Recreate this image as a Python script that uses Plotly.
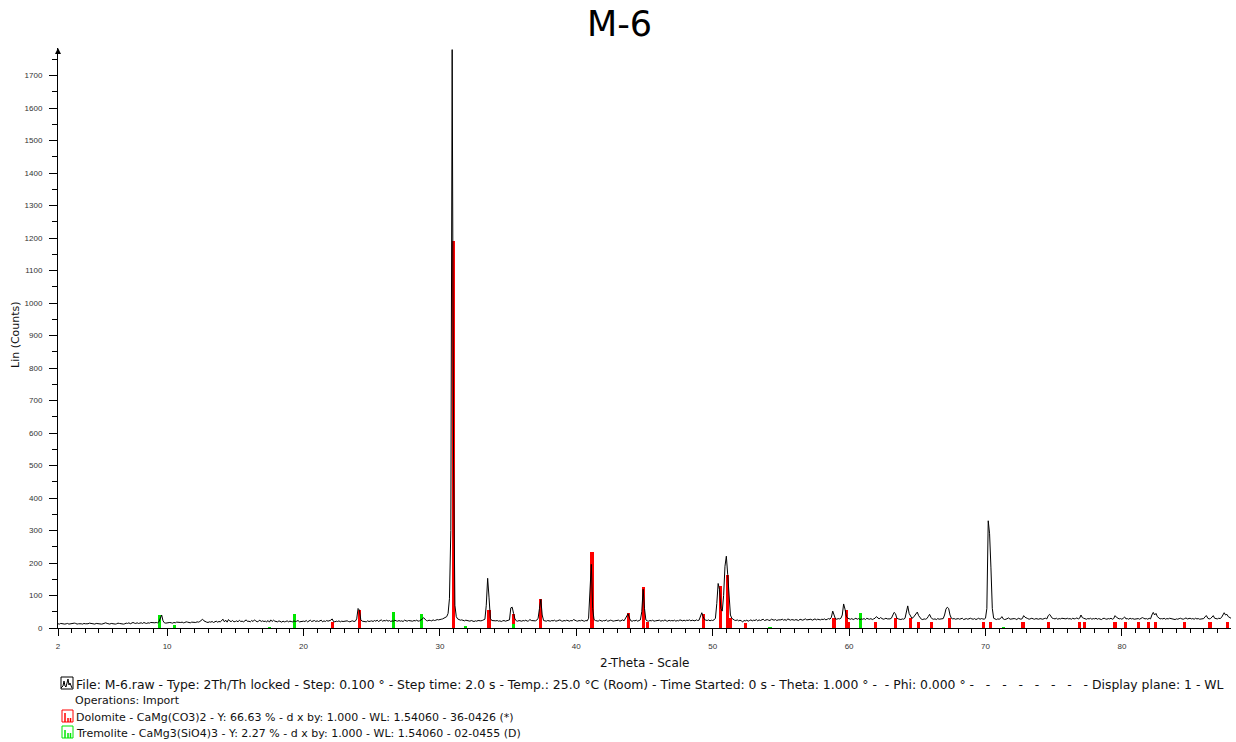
import numpy as np
import plotly.graph_objects as go

# ---------------- data ----------------
start_2theta = 2.0
step_2theta = 0.1
# measured counts, one row per degree (x.0 ... x.9), last value is 88.0
counts = [
    13,12,14,13,11,12,13,14,12,13,   # 2
    12,13,15,14,12,13,14,13,12,14,   # 3
    13,12,13,15,14,12,13,12,14,13,   # 4
    14,13,12,13,14,16,14,13,12,14,   # 5
    13,14,12,13,15,14,13,14,12,13,   # 6
    15,14,16,13,14,17,15,14,16,14,   # 7
    15,16,14,17,15,14,16,15,17,16,   # 8
    15,16,17,16,19,32,40,22,16,15,   # 9
    16,15,17,16,15,17,16,18,17,16,   # 10
    17,18,16,17,19,18,17,16,18,17,   # 11
    18,17,19,18,20,24,27,22,19,18,   # 12
    17,19,18,20,17,19,21,18,20,19,   # 13
    22,27,19,24,18,26,21,20,23,19,   # 14
    20,22,19,24,20,21,19,22,25,20,   # 15
    21,19,23,20,25,22,19,21,24,20,   # 16
    22,20,21,19,23,18,25,20,24,21,   # 17
    20,19,22,20,18,21,19,20,22,19,   # 18
    21,20,19,22,20,21,23,19,20,22,   # 19
    21,20,23,19,22,24,20,21,23,20,   # 20
    22,20,21,24,19,22,20,23,21,22,   # 21
    24,28,20,19,21,20,22,19,21,20,   # 22
    21,20,22,20,19,21,22,20,21,28,   # 23
    60,55,25,21,20,21,19,22,20,21,   # 24
    22,20,23,21,24,20,22,25,21,23,   # 25
    22,24,21,23,20,22,21,24,22,21,   # 26
    23,21,22,20,24,22,21,23,22,20,   # 27
    21,23,22,24,21,22,24,27,32,26,   # 28
    23,22,24,23,22,25,23,24,26,25,   # 29
    25,27,28,30,32,35,45,90,300,1780,  # 30
    520,70,35,28,26,24,25,23,22,24,  # 31
    23,22,21,23,22,20,22,21,23,22,   # 32
    22,23,24,27,70,153,95,30,23,22,  # 33
    21,22,23,21,22,20,22,23,21,22,   # 34
    22,25,62,64,45,28,22,21,23,22,   # 35
    21,23,22,24,21,22,26,23,22,21,   # 36
    22,24,30,60,88,40,23,22,21,23,   # 37
    22,21,23,22,24,21,22,23,25,22,   # 38
    21,23,22,24,22,21,23,22,26,23,   # 39
    22,21,23,22,24,22,21,23,22,30,   # 40
    95,196,60,26,23,22,21,24,22,21,  # 41
    23,22,25,21,22,24,23,21,22,23,   # 42
    22,24,21,23,25,22,28,38,44,30,   # 43
    22,21,23,22,24,21,23,25,50,119,  # 44
    60,25,22,21,23,22,24,21,22,23,   # 45
    22,24,21,23,22,25,22,21,24,22,   # 46
    23,22,24,21,23,22,25,23,22,24,   # 47
    22,24,23,25,22,24,23,22,25,23,   # 48
    24,38,47,35,26,24,23,25,22,24,   # 49
    23,25,30,75,137,118,60,52,100,190,  # 50
    221,165,90,40,30,26,24,23,25,22, # 51
    24,22,19,23,22,24,21,23,25,22,   # 52
    24,23,26,22,25,23,24,27,23,25,   # 53
    26,24,23,27,25,24,26,23,25,24,   # 54
    25,27,24,26,23,28,25,24,26,25,   # 55
    24,26,25,23,27,25,24,26,28,25,   # 56
    26,25,27,24,26,28,25,27,26,25,   # 57
    27,26,28,25,27,29,27,33,52,38,   # 58
    28,27,29,28,30,40,74,58,36,30,   # 59
    28,27,29,26,28,30,27,29,26,28,   # 60
    27,29,26,30,28,27,29,26,28,30,   # 61
    35,30,28,32,29,27,28,30,28,27,   # 62
    28,30,40,48,44,30,28,27,26,28,   # 63
    27,30,55,68,45,35,30,32,38,45,   # 64
    49,38,30,27,26,28,27,29,35,42,   # 65
    33,28,27,28,26,29,27,28,30,29,   # 66
    40,58,64,60,40,30,28,29,27,28,   # 67
    29,27,28,30,26,28,29,27,28,30,   # 68
    28,27,29,26,28,30,27,29,28,27,   # 69
    30,60,330,290,185,60,30,27,26,28,  # 70
    27,29,35,28,26,27,29,31,27,28,   # 71
    27,29,28,26,30,28,27,29,38,33,   # 72
    30,29,27,28,30,28,27,29,28,27,   # 73
    29,28,27,29,30,28,38,42,36,30,   # 74
    29,28,30,27,29,28,30,29,27,28,   # 75
    30,28,29,27,30,28,29,31,28,30,   # 76
    40,32,30,28,27,29,28,30,27,29,   # 77
    28,30,27,29,28,26,29,30,28,27,   # 78
    29,28,30,27,29,38,33,30,28,29,   # 79
    27,30,34,28,29,27,30,28,29,27,   # 80
    28,30,29,27,29,32,30,28,29,27,   # 81
    30,28,40,48,40,45,35,30,28,29,   # 82
    28,30,27,29,28,30,29,27,28,26,   # 83
    28,27,29,30,28,27,29,31,28,29,   # 84
    30,28,29,27,30,28,29,27,28,30,   # 85
    29,35,38,30,28,29,35,38,30,29,   # 86
    28,30,29,32,38,47,40,42,35,33,   # 87
    30,                              # 88.0
]
two_theta = start_2theta + step_2theta * np.arange(len(counts))

dolomite_pos = [22.1, 24.1, 31.0, 33.6, 35.4, 37.4, 41.15, 43.8, 44.95, 45.2,
                49.3, 50.55, 51.1, 51.3, 52.4, 58.9, 59.8, 59.95, 61.95, 63.4,
                64.5, 65.1, 66.05, 67.35, 69.85, 70.35, 72.75, 74.6, 76.9, 77.25,
                79.5, 80.25, 81.2, 81.95, 82.45, 84.6, 86.45, 87.75]
dolomite_int = [20, 55, 1190, 55, 43, 90, 234, 45, 125, 20,
                43, 130, 163, 31, 15, 32, 55, 17, 17, 32,
                32, 17, 17, 32, 17, 17, 17, 17, 17, 17,
                17, 17, 17, 17, 17, 17, 17, 17]

tremolite_pos = [9.45, 10.55, 17.5, 19.35, 26.6, 28.65, 31.9, 35.4, 54.2, 60.85, 71.3]
tremolite_int = [40, 8, 3, 43, 50, 43, 6, 12, 3, 47, 3]

y_ticks = list(range(0, 1800, 100))
x_major = [2] + list(range(5, 90, 5))
x_labels = [str(v) if (v % 10 == 0 or v == 2) else "" for v in x_major]

title_text = "M-6"
x_title = "2-Theta - Scale"
y_title = "Lin (Counts)"
NB = "\u00a0"
dash_run = (" " + NB * 2).join(["-"] * 8)
legend_lines = [
    "File: M-6.raw - Type: 2Th/Th locked - Step: 0.100 ° - Step time: 2.0 s - Temp.: 25.0 °C (Room) - "
    "Time Started: 0 s - Theta: 1.000 ° -" + NB + " - Phi: 0.000 ° " + dash_run + " Display plane: 1 - WL",
    "Operations: Import",
    "Dolomite - CaMg(CO3)2 - Y: 66.63 % - d x by: 1.000 - WL: 1.54060 - 36-0426 (*)",
    "Tremolite - CaMg3(SiO4)3 - Y: 2.27 % - d x by: 1.000 - WL: 1.54060 - 02-0455 (D)",
]

# ---------------- figure ----------------
W, H = 1236, 742
L, R, T, B = 58, 5, 48, 114
pw, ph = W - L - R, H - T - B

def px(xp):
    return (xp - L) / pw

def py(yp):
    return (H - B - yp) / ph

fig = go.Figure()
fig.add_trace(go.Bar(x=dolomite_pos, y=dolomite_int, width=0.24,
                     marker=dict(color="#ff0000", line=dict(width=0)),
                     name="Dolomite", showlegend=False))
fig.add_trace(go.Bar(x=tremolite_pos, y=tremolite_int, width=0.24,
                     marker=dict(color="#00e600", line=dict(width=0)),
                     name="Tremolite", showlegend=False))
fig.add_trace(go.Scatter(x=two_theta, y=counts, mode="lines",
                         line=dict(color="black", width=1),
                         name="M-6", showlegend=False))

tick_font = dict(family="Liberation Sans, Arial", size=8, color="#333333")
txt_font = dict(family="DejaVu Sans, Verdana", size=11, color="#111111")

annotations = [
    dict(text=title_text, x=px(619), y=py(24), xref="paper", yref="paper",
         showarrow=False, xanchor="center", yanchor="middle",
         font=dict(family="DejaVu Sans, Verdana", size=35, color="black")),
    dict(text=x_title, x=px(644), y=py(663), xref="paper", yref="paper",
         showarrow=False, xanchor="center", yanchor="middle", font=dict(txt_font, size=12)),
    dict(text=y_title, x=px(15), y=py(335), xref="paper", yref="paper",
         showarrow=False, xanchor="center", yanchor="middle", textangle=-90,
         font=dict(txt_font, size=11)),
    # arrow at top of y axis
    dict(x=2, y=1785, xref="x", yref="y", ax=0, ay=6, axref="pixel", ayref="pixel",
         text="", showarrow=True, arrowhead=2, arrowsize=1.2, arrowwidth=1, arrowcolor="black",
         standoff=0),
]
ys = [684, 700, 717, 733]
xs = [74, 73, 74, 74]
fonts = [dict(txt_font, size=12.4), txt_font, txt_font, txt_font]
for t, xx, yy, ft in zip(legend_lines, xs, ys, fonts):
    annotations.append(dict(text=t, x=px(xx), y=py(yy), xref="paper", yref="paper",
                            showarrow=False, xanchor="left", yanchor="middle",
                            font=ft))

def rect(x0, y0, x1, y1, color):
    return dict(type="rect", xref="paper", yref="paper",
                x0=px(x0), x1=px(x1), y0=py(y0), y1=py(y1),
                line=dict(color=color, width=1), fillcolor="rgba(0,0,0,0)")

def poly(points, color, width=1):
    path = "M" + " L".join(f"{px(a):.5f},{py(b):.5f}" for a, b in points)
    return dict(type="path", xref="paper", yref="paper", path=path,
                line=dict(color=color, width=width))

shapes = [
    rect(61, 677, 73, 689, "black"),
    poly([(61, 688), (63, 686), (64, 681), (65, 686), (66, 687), (68, 679), (69, 685), (70, 683), (72, 688)], "black"),
    rect(62, 710, 73, 722, "#ff0000"),
    poly([(65, 722), (65, 713)], "#ff0000", 1.5),
    poly([(68, 722), (68, 718)], "#ff0000", 1.5),
    poly([(70.5, 722), (70.5, 718)], "#ff0000", 1.5),
    rect(62, 726, 73, 738, "#00e600"),
    poly([(65, 738), (65, 730)], "#00e600", 1.5),
    poly([(68, 738), (68, 733)], "#00e600", 1.5),
    poly([(70.5, 738), (70.5, 733)], "#00e600", 1.5),
]

fig.update_layout(
    width=W, height=H,
    margin=dict(l=L, r=R, t=T, b=B, pad=0),
    paper_bgcolor="white", plot_bgcolor="white",
    barmode="overlay", bargap=0,
    showlegend=False,
    annotations=annotations,
    shapes=shapes,
    xaxis=dict(range=[2, 88], showgrid=False, zeroline=False,
               showline=True, linecolor="black", linewidth=1,
               tickmode="array", tickvals=x_major, ticktext=x_labels,
               ticks="outside", ticklen=7, tickwidth=1, tickcolor="black",
               tickfont=tick_font, ticklabelstandoff=3,
               minor=dict(tickmode="array", tickvals=list(range(3, 88)),
                          ticks="outside", ticklen=4, tickwidth=1, tickcolor="black",
                          showgrid=False)),
    yaxis=dict(range=[0, 1785], showgrid=False, zeroline=False,
               showline=True, linecolor="black", linewidth=1,
               tickmode="array", tickvals=y_ticks,
               ticks="outside", ticklen=8, tickwidth=1, tickcolor="black",
               tickfont=tick_font, ticklabelstandoff=5,
               minor=dict(tickmode="array", tickvals=list(range(50, 1800, 100)),
                          ticks="outside", ticklen=5, tickwidth=1, tickcolor="black",
                          showgrid=False)),
)

fig.write_html("out.html")
